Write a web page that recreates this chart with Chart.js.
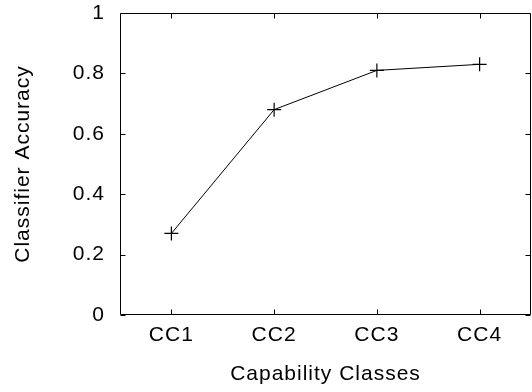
<!DOCTYPE html>
<html>
<head>
<meta charset="utf-8">
<script src="https://cdn.jsdelivr.net/npm/chart.js@4"></script>
<style>
  html, body { margin: 0; padding: 0; background: #fff; }
  #wrap { width: 532px; height: 392px; }
</style>
</head>
<body>
<div id="wrap"><canvas id="chart" width="532" height="392"></canvas></div>
<script>
// Chart data
const categories = ['CC1', 'CC2', 'CC3', 'CC4'];
const accuracy = [0.27, 0.68, 0.81, 0.83];
const yTicks = [0, 0.2, 0.4, 0.6, 0.8, 1];

const FONT = { family: '"Liberation Sans", Arial, Helvetica, sans-serif', size: 21 };

// frame + inward tick marks on all four sides (gnuplot style)
const framePlugin = {
  id: 'frame',
  beforeDraw(chart) {
    chart.ctx.letterSpacing = '1px';
  },
  afterDatasetsDraw(chart) {
    const { ctx, chartArea: a, scales } = chart;
    const L = Math.round(a.left) + 0.5, R = Math.round(a.right) - 0.5;
    const T = Math.round(a.top) + 0.5, B = Math.round(a.bottom) - 0.5;
    const len = 5;
    ctx.save();
    ctx.strokeStyle = '#000';
    ctx.lineWidth = 1;
    ctx.beginPath();
    ctx.rect(L, T, R - L, B - T);
    yTicks.forEach(v => {
      const y = Math.round(scales.y.getPixelForValue(v)) + 0.5;
      ctx.moveTo(L, y); ctx.lineTo(L + len, y);
      ctx.moveTo(R, y); ctx.lineTo(R - len, y);
    });
    categories.forEach((c, i) => {
      const x = Math.round(scales.x.getPixelForValue(i)) + 0.5;
      ctx.moveTo(x, B); ctx.lineTo(x, B - len);
      ctx.moveTo(x, T); ctx.lineTo(x, T + len);
    });
    ctx.stroke();
    ctx.restore();
  }
};

new Chart(document.getElementById('chart'), {
  type: 'line',
  data: {
    labels: categories,
    datasets: [{
      data: accuracy,
      borderColor: '#000',
      borderWidth: 1,
      tension: 0,
      pointStyle: 'cross',
      pointRadius: 7,
      pointBorderWidth: 1.2,
      pointBorderColor: '#000',
      pointBackgroundColor: '#000'
    }]
  },
  options: {
    responsive: false,
    animation: false,
    devicePixelRatio: 1,
    layout: { autoPadding: false, padding: { top: 13, right: 1, left: 0, bottom: 0 } },
    plugins: {
      legend: { display: false },
      tooltip: { enabled: false }
    },
    scales: {
      x: {
        type: 'category',
        offset: true,
        grid: { display: false, drawTicks: false },
        border: { display: false },
        ticks: { color: '#000', font: FONT, padding: 8, maxRotation: 0 },
        title: { display: true, text: 'Capability Classes', color: '#000', font: FONT, padding: { top: 3, bottom: 5 } },
        afterFit: s => { s.height = 77; s.paddingLeft = 0; s.paddingRight = 0; }
      },
      y: {
        min: 0,
        max: 1,
        grid: { display: false, drawTicks: false },
        border: { display: false },
        afterBuildTicks: s => { s.ticks = yTicks.map(v => ({ value: v })); },
        ticks: {
          color: '#000',
          font: FONT,
          padding: 15,
          callback: v => String(Number(v.toFixed(1)))
        },
        title: { display: true, text: 'Classifier Accuracy', color: '#000', font: FONT, padding: { top: 11, bottom: 0 } },
        afterFit: s => { s.width = 120; s.paddingTop = 0; s.paddingBottom = 0; }
      }
    }
  },
  plugins: [framePlugin]
});
</script>
</body>
</html>
